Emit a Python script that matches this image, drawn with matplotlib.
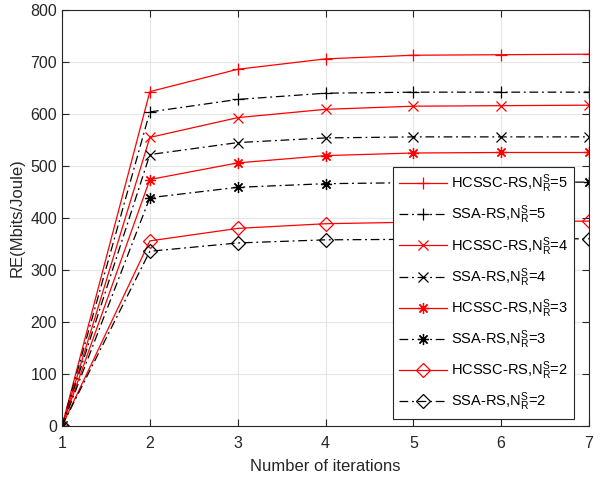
import matplotlib
matplotlib.use("Agg")
import matplotlib.pyplot as plt

iterations = [1, 2, 3, 4, 5, 6, 7]
hcssc_5 = [0, 643, 686, 706, 713, 714, 715]
ssa_5 = [0, 604, 628, 640, 642, 642, 642]
hcssc_4 = [0, 555, 593, 609, 615, 616, 617]
ssa_4 = [0, 522, 545, 554, 556, 556, 556]
hcssc_3 = [0, 474, 506, 520, 525, 526, 526]
ssa_3 = [0, 439, 459, 466, 468, 469, 469]
hcssc_2 = [0, 356, 380, 389, 392, 393, 394]
ssa_2 = [0, 336, 352, 358, 359, 360, 360]

x_ticks = [1, 2, 3, 4, 5, 6, 7]
y_ticks = [0, 100, 200, 300, 400, 500, 600, 700, 800]

plt.rcParams['font.family'] = ['Liberation Sans', 'DejaVu Sans']
plt.rcParams['mathtext.fontset'] = 'custom'
plt.rcParams['mathtext.rm'] = 'Liberation Sans'
plt.rcParams['mathtext.it'] = 'Liberation Sans'

fig = plt.figure(figsize=(6.0, 4.78), dpi=100)
ax = fig.add_axes([62/600, 1-426/478, (589-62)/600, (426-10)/478])

dd = (7, 3, 1.5, 3)
lw = 0.9
series = [
    (hcssc_5, 'red', '-', '+', 9, 'HCSSC-RS,N$_\\mathregular{R}^\\mathregular{S}$=5'),
    (ssa_5, 'black', '-.', '+', 9, 'SSA-RS,N$_\\mathregular{R}^\\mathregular{S}$=5'),
    (hcssc_4, 'red', '-', 'x', 7, 'HCSSC-RS,N$_\\mathregular{R}^\\mathregular{S}$=4'),
    (ssa_4, 'black', '-.', 'x', 7, 'SSA-RS,N$_\\mathregular{R}^\\mathregular{S}$=4'),
    (hcssc_3, 'red', '-', (8, 2, 0), 8, 'HCSSC-RS,N$_\\mathregular{R}^\\mathregular{S}$=3'),
    (ssa_3, 'black', '-.', (8, 2, 0), 8, 'SSA-RS,N$_\\mathregular{R}^\\mathregular{S}$=3'),
    (hcssc_2, 'red', '-', 'D', 7, 'HCSSC-RS,N$_\\mathregular{R}^\\mathregular{S}$=2'),
    (ssa_2, 'black', '-.', 'D', 7, 'SSA-RS,N$_\\mathregular{R}^\\mathregular{S}$=2'),
]
for vals, c, ls, mk, ms, lab in series:
    kw = dict(color=c, lw=lw, marker=mk, markersize=ms, markerfacecolor='none',
              markeredgecolor=c, markeredgewidth=0.9, label=lab)
    if ls == '-.':
        line, = ax.plot(iterations, vals, linestyle='--', **kw)
        line.set_dashes(dd)
    else:
        ax.plot(iterations, vals, linestyle='-', **kw)

ax.set_xlim(1, 7)
ax.set_ylim(0, 800)
ax.set_xticks(x_ticks)
ax.set_yticks(y_ticks)
ax.grid(True, color='#e6e6e6', lw=0.8)
ax.set_axisbelow(True)
ax.tick_params(direction='in', top=True, right=True, labelsize=11.5,
               colors='#262626', length=5, width=0.8)
ax.tick_params(axis='x', pad=7)
for s in ax.spines.values():
    s.set_color('#262626')
    s.set_linewidth(0.8)
ax.set_xlabel('Number of iterations', fontsize=12, color='#262626', labelpad=6)
ax.set_ylabel('RE(Mbits/Joule)', fontsize=12, color='#262626')

leg = ax.legend(loc='upper left', bbox_to_anchor=(0.628, 0.6226), fontsize=10.5,
                frameon=True, fancybox=False, framealpha=1, handlelength=3.3,
                handletextpad=0.25, labelspacing=0.58, borderpad=0.4,
                borderaxespad=0)
leg.get_frame().set_edgecolor('#262626')
leg.get_frame().set_linewidth(0.8)

fig.savefig('out.png', dpi=100)
